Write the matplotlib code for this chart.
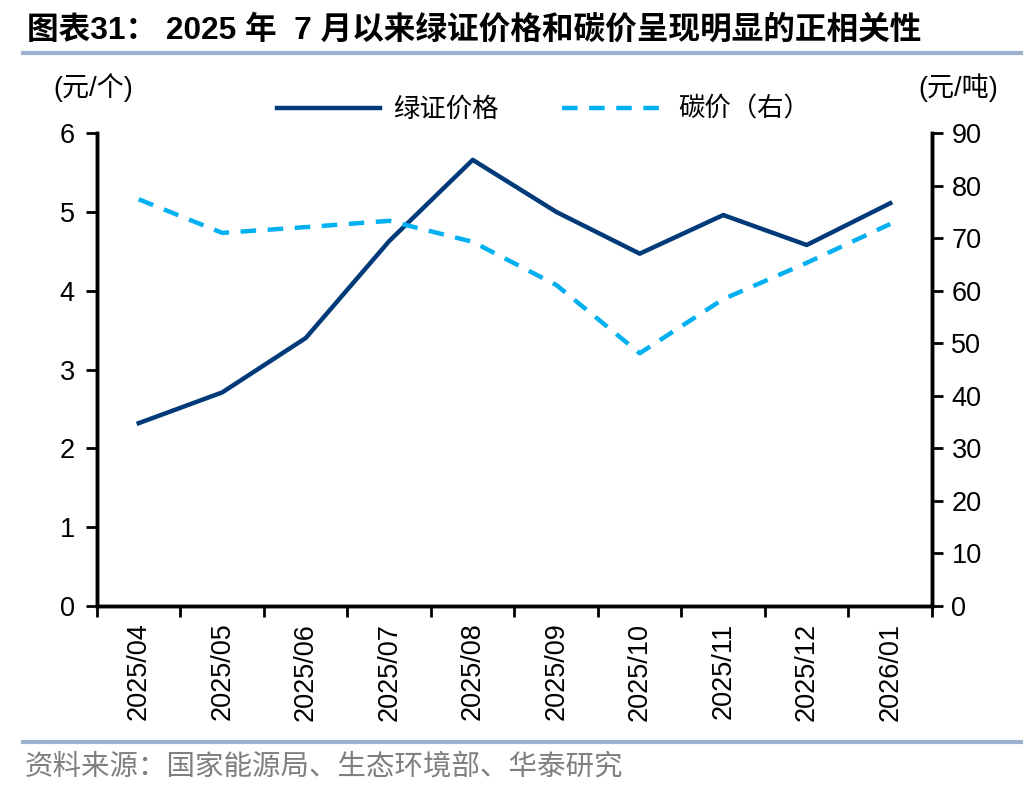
import matplotlib as mpl
import matplotlib.pyplot as plt
import numpy as np

mpl.rcParams['font.family'] = ['Liberation Sans', 'Noto Sans CJK SC', 'DejaVu Sans']

months = ['2025/04', '2025/05', '2025/06', '2025/07', '2025/08',
          '2025/09', '2025/10', '2025/11', '2025/12', '2026/01']
green_cert = [2.32, 2.71, 3.40, 4.63, 5.66, 5.00, 4.47, 4.96, 4.58, 5.11]
carbon = [77.4, 71.0, 72.1, 73.3, 69.3, 61.1, 48.1, 58.4, 65.3, 72.7]

navy = '#003A78'
sky = '#00B0F0'

fig = plt.figure(figsize=(10.36, 7.92), dpi=100)
ax = fig.add_axes([0.0936, 0.2348, 0.806, 0.5972])
ax2 = ax.twinx()

x = np.arange(len(months))
l1, = ax.plot(x, green_cert, color=navy, lw=3.2, label='绿证价格')
l2, = ax2.plot(x, carbon, color=sky, lw=3.2, ls=(0, (3.5, 2.6)), label='碳价（右）')

ax.set_xlim(-0.5, len(months) - 0.5)
ax.set_ylim(0, 6)
ax2.set_ylim(0, 90)
ax.set_yticks(range(0, 7))
ax2.set_yticks(range(0, 91, 10))
ax.set_xticks(x)
ax.set_xticklabels(months, rotation=90, fontsize=19.5)
ax.set_xticks(np.arange(-0.5, len(months)), minor=True)
ax.tick_params(axis='x', which='major', length=0, pad=12)
ax.tick_params(axis='x', which='minor', length=8, width=2, direction='out')
ax.tick_params(axis='y', labelsize=19.5, length=8, width=2, direction='out', pad=8)
ax2.tick_params(axis='y', labelsize=19.5, length=8, width=2, direction='out', pad=6)

for a in (ax, ax2):
    for s in a.spines.values():
        s.set_linewidth(2.5)
    a.spines['top'].set_visible(False)

fig.text(0.052, 0.889, '(元/个)', fontsize=19.5, ha='left', va='center')
fig.text(0.963, 0.889, '(元/吨)', fontsize=19.5, ha='right', va='center')

fig.legend(handles=[l1, l2], loc='center', bbox_to_anchor=(0.525, 0.862), ncol=2,
           frameon=False, fontsize=19, handlelength=3.9, columnspacing=2.4,
           handletextpad=0.5)

fig.text(0.026, 0.962, '图表31： 2025 年  7 月以来绿证价格和碳价呈现明显的正相关性',
         fontsize=22.8, fontweight='bold', ha='left', va='center')
fig.add_artist(plt.Line2D([0.022, 0.986], [0.933, 0.933], color='#9BB3CF', lw=3))
fig.add_artist(plt.Line2D([0.022, 0.986], [0.063, 0.063], color='#9BB3CF', lw=3))
fig.text(0.024, 0.031, '资料来源：国家能源局、生态环境部、华泰研究', fontsize=20.5,
         color='#7F7F7F', ha='left', va='center')

fig.savefig('out.png', dpi=100)
